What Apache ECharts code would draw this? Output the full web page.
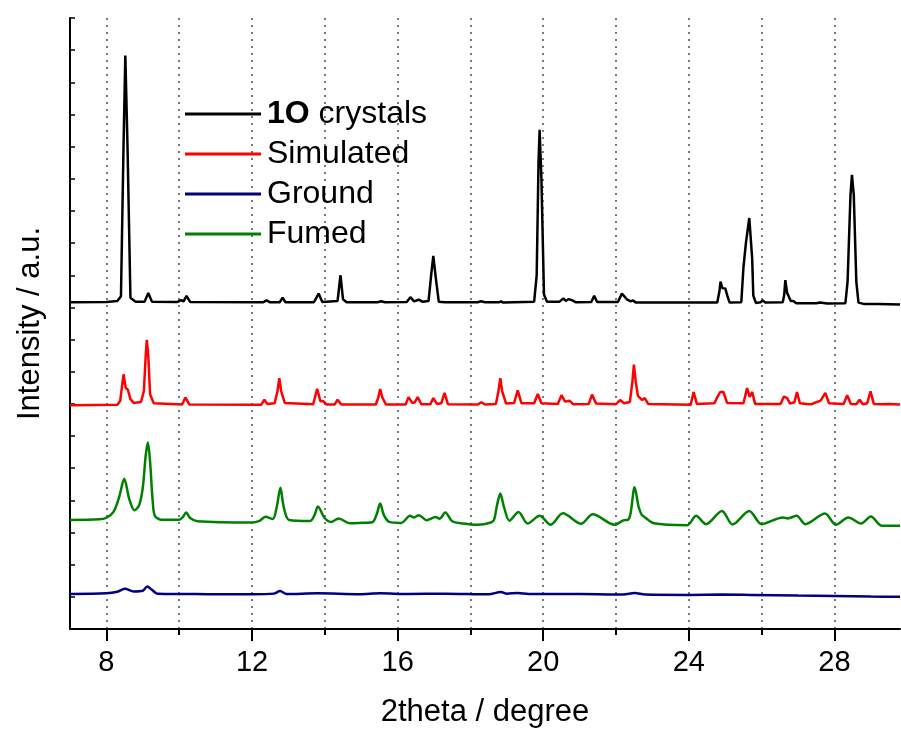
<!DOCTYPE html>
<html>
<head>
<meta charset="utf-8">
<title>XRD patterns</title>
<script src="https://cdn.jsdelivr.net/npm/echarts@6.0.0/dist/echarts.min.js"></script>
<style>
  html, body { margin: 0; padding: 0; background: #fff; }
  #chart { width: 901px; height: 733px; }
</style>
</head>
<body>
<div id="chart"></div>
<script>
// series names (legend order)
const seriesNames = ['1O crystals', 'Simulated', 'Ground', 'Fumed'];

// x tick labels and dotted grid positions (2theta, degree)
const xTickLabels = [8, 12, 16, 20, 24, 28];
const xGridTicks = [8, 10, 12, 14, 16, 18, 20, 22, 24, 26, 28];

// [2theta, intensity] pairs, offset so the patterns are stacked
const crystalsData = [
  [7.0, 101.6], [8.0, 101.7], [8.3, 102.0], [8.4, 103.5], [8.47, 150], [8.52, 178.3], [8.58, 150], [8.66, 103],
  [8.8, 101.8], [9.05, 101.8], [9.15, 104.5], [9.25, 101.8], [9.95, 101.7], [10.05, 102.3], [10.12, 101.9],
  [10.2, 103.6], [10.3, 101.7], [12.3, 101.6], [12.4, 102.2], [12.5, 101.6], [12.76, 101.6], [12.84, 103],
  [12.92, 101.6], [13.7, 101.6], [13.83, 104.3], [13.93, 101.7], [14.35, 102], [14.43, 110], [14.5, 102.5],
  [14.6, 101.6], [15.45, 101.6], [15.55, 101.9], [15.65, 101.6], [16.25, 101.7], [16.35, 103.2], [16.45, 101.9],
  [16.58, 102.4], [16.68, 101.8], [16.85, 102], [16.92, 110], [16.98, 116], [17.05, 109], [17.13, 101.8],
  [17.3, 101.6], [18.2, 101.6], [18.29, 101.9], [18.4, 101.6], [18.78, 101.6], [18.84, 101.9], [18.9, 101.5],
  [19.75, 101.8], [19.82, 110], [19.87, 145], [19.9, 155.2], [19.95, 140], [20.02, 104], [20.1, 101.8],
  [20.45, 101.8], [20.55, 102.8], [20.62, 102], [20.7, 102.6], [20.8, 102.2], [20.9, 101.6], [21.32, 101.7],
  [21.4, 103.6], [21.48, 101.7], [22.05, 101.7], [22.16, 104.3], [22.3, 102.5], [22.4, 101.9], [22.46, 102.2],
  [22.55, 101.5], [24.78, 101.5], [24.84, 105], [24.87, 108], [24.92, 106], [25.0, 105.9], [25.06, 103.5],
  [25.12, 101.5], [25.44, 101.6], [25.5, 112.5], [25.57, 120.3], [25.66, 127.8], [25.74, 115], [25.77, 103.7],
  [25.84, 101.4], [25.97, 101.6], [26.03, 102.2], [26.1, 101.5], [26.58, 101.6], [26.62, 104], [26.65, 108.5],
  [26.7, 104.5], [26.74, 104.3], [26.8, 102], [26.87, 102], [26.95, 101.3], [27.5, 101.3], [27.6, 101.5],
  [27.8, 101.2], [28.3, 101.3], [28.36, 108], [28.44, 135], [28.48, 141.2], [28.53, 135], [28.6, 108],
  [28.66, 101.5], [28.8, 101.1], [29.2, 101.1], [29.8, 100.9]
];

const simulatedData = [
  [7.0, 69.6], [8.3, 69.7], [8.38, 71], [8.47, 79.2], [8.53, 75], [8.59, 74.4], [8.66, 71.5], [8.75, 70.3],
  [8.95, 70.6], [9.03, 74], [9.08, 85], [9.11, 89.9], [9.15, 85], [9.2, 73], [9.3, 70.2], [10.08, 69.8],
  [10.17, 72], [10.28, 69.8], [12.25, 69.7], [12.34, 71.3], [12.42, 70.0], [12.62, 70.2], [12.7, 74], [12.75, 78],
  [12.8, 74], [12.9, 70.3], [13.68, 69.9], [13.79, 74.7], [13.88, 70.8], [13.95, 70.9], [14.05, 69.8],
  [14.27, 69.8], [14.35, 71.3], [14.45, 69.8], [15.4, 69.8], [15.47, 72], [15.52, 74.6], [15.58, 72],
  [15.68, 69.8], [16.22, 69.8], [16.3, 72.1], [16.4, 70.3], [16.47, 70.5], [16.55, 72.1], [16.65, 69.9],
  [16.9, 69.9], [16.98, 71.8], [17.08, 70.0], [17.2, 70.2], [17.29, 73.4], [17.38, 69.9], [18.2, 69.8],
  [18.3, 70.5], [18.4, 69.8], [18.7, 70.0], [18.77, 74], [18.82, 78], [18.87, 74], [18.98, 70.1], [19.2, 70.3],
  [19.3, 74.2], [19.4, 70.2], [19.75, 70.2], [19.85, 73.1], [19.95, 70.2], [20.4, 70.0], [20.5, 72.7],
  [20.6, 70.7], [20.72, 71.0], [20.82, 69.9], [21.25, 70], [21.34, 72.9], [21.45, 70.1], [22.0, 69.9],
  [22.11, 71.2], [22.22, 70.2], [22.38, 70.6], [22.45, 77], [22.49, 82.2], [22.54, 77], [22.6, 72.5],
  [22.65, 72.6], [22.72, 71.2], [22.79, 71.8], [22.88, 70.0], [24.05, 69.7], [24.13, 73.7], [24.22, 70.0],
  [24.7, 70.2], [24.8, 72.5], [24.86, 73.7], [24.95, 73.7], [25.05, 70.3], [25.5, 70.2], [25.6, 74.9],
  [25.67, 72.2], [25.74, 73.7], [25.82, 70.0], [26.52, 70.0], [26.61, 72.3], [26.7, 71.8], [26.78, 70.1],
  [26.9, 70.5], [26.97, 73.7], [27.05, 70.2], [27.25, 70.0], [27.3, 70.6], [27.38, 69.9], [27.45, 70.3],
  [27.52, 70.6], [27.62, 71], [27.75, 73.4], [27.85, 70.2], [28.25, 70.0], [28.35, 72.7], [28.45, 70.0],
  [28.6, 69.9], [28.69, 71.3], [28.78, 69.9], [28.9, 70.2], [28.99, 73.9], [29.08, 70.0], [29.3, 69.9],
  [29.5, 70.0], [29.8, 69.8]
];

const groundData = [
  [7.0, 10.9], [8.0, 11.1], [8.3, 11.6], [8.51, 12.5], [8.75, 11.7], [9.0, 11.9], [9.12, 13.2], [9.25, 12.2],
  [9.4, 11.0], [10.2, 10.9], [11.0, 10.8], [12.0, 10.8], [12.6, 11.0], [12.77, 11.8], [12.95, 10.9],
  [13.8, 11.1], [14.95, 10.8], [15.52, 11.1], [16.3, 10.9], [17.3, 11.0], [18.5, 10.8], [18.84, 11.5],
  [19.0, 11.0], [19.3, 11.2], [19.6, 10.9], [20.5, 10.9], [21.5, 10.8], [22.2, 10.7], [22.51, 11.2],
  [22.8, 10.7], [24.0, 10.6], [24.9, 10.7], [25.7, 10.6], [27.0, 10.4], [28.0, 10.3], [29.0, 10.1], [29.8, 10.0]
];

const fumedData = [
  [7.0, 33.9], [7.8, 34.1], [8.0, 34.6], [8.2, 36.5], [8.35, 41], [8.49, 46.7], [8.63, 40.3], [8.77, 36.9],
  [8.9, 38.5], [9.0, 44], [9.08, 54], [9.14, 58.0], [9.2, 52], [9.27, 40], [9.33, 35.2], [9.5, 34.0],
  [10.0, 34.0], [10.1, 34.8], [10.19, 36.2], [10.3, 34.5], [10.5, 33.5], [12.0, 33.1], [12.2, 33.6],
  [12.37, 34.9], [12.57, 34.2], [12.68, 38], [12.78, 43.9], [12.87, 38], [13.02, 33.9], [13.6, 33.6],
  [13.72, 35.5], [13.81, 38.1], [13.99, 34.6], [14.17, 33.3], [14.38, 34.4], [14.68, 32.9], [14.95, 33.0],
  [15.3, 33.2], [15.42, 35.5], [15.52, 39.0], [15.62, 35.5], [15.77, 33.3], [16.1, 33.0], [16.34, 35.2],
  [16.45, 34.7], [16.58, 35.4], [16.8, 33.8], [17.04, 34.8], [17.15, 34.3], [17.31, 36.2], [17.5, 33.5],
  [17.8, 32.8], [18.2, 32.4], [18.56, 33.1], [18.65, 34], [18.73, 38.5], [18.82, 42.1], [18.92, 38],
  [19.07, 33.7], [19.32, 36.4], [19.57, 32.8], [19.9, 35.2], [20.2, 32.4], [20.54, 36.0], [21.04, 32.7],
  [21.36, 35.7], [21.96, 32.4], [22.2, 33.8], [22.33, 34.0], [22.4, 36], [22.51, 44.1], [22.62, 38],
  [22.7, 35.6], [22.77, 34.9], [23.04, 32.9], [23.95, 32.3], [24.2, 35.2], [24.47, 32.6], [24.91, 36.7],
  [25.2, 32.5], [25.66, 36.7], [26.0, 32.6], [26.58, 34.7], [26.72, 34.4], [26.96, 35.2], [27.2, 32.6],
  [27.74, 35.9], [28.04, 32.4], [28.38, 34.7], [28.73, 32.8], [29.0, 35.0], [29.3, 32.1], [29.8, 32.1]
];

const seriesColors = ['#000000', '#ff0000', '#000080', '#008000'];
const seriesData = [crystalsData, simulatedData, groundData, fumedData];
// the measured (fumed, ground) patterns are broader and rounder
const seriesSmooth = [false, false, 0.3, 0.3];

const font = "'Liberation Sans', Arial, sans-serif";

var myChart = echarts.init(document.getElementById('chart'), null, {renderer: 'canvas'});

const option = {
  animation: false,
  backgroundColor: '#fff',
  grid: {
    left: 70,
    right: 1,
    top: 18,
    bottom: 100,
  },
  legend: {
    orient: 'vertical',
    left: 180,
    top: 93,
    icon: 'rect',
    itemWidth: 76,
    itemHeight: 3,
    itemGap: 8,
    data: seriesNames,
    formatter: function (name) {
      return name === '1O crystals' ? '{b|1O} crystals' : name;
    },
    textStyle: {
      fontSize: 32,
      fontFamily: font,
      color: '#000',
      padding: [0, 0, 0, 1],
      rich: {
        b: {fontSize: 32, fontFamily: font, fontWeight: 'bold', color: '#000'}
      }
    },
  },
  xAxis: [
    {
      type: 'value',
      min: 7,
      max: 29.8,
      name: '2theta / degree',
      nameLocation: 'middle',
      nameGap: 68,
      nameTextStyle: {fontSize: 31, fontFamily: font, color: '#000'},
      axisLine: {show: true, onZero: false, lineStyle: {color: '#000', width: 2}},
      axisTick: {show: true, customValues: xTickLabels, length: 12, lineStyle: {color: '#000', width: 2}},
      axisLabel: {customValues: xTickLabels, fontSize: 29, fontFamily: font, color: '#000', margin: 19},
      splitLine: {show: false},
    },
    {
      // minor ticks and dotted grid every 2 degrees
      type: 'value',
      min: 7,
      max: 29.8,
      position: 'bottom',
      axisLine: {show: false},
      axisTick: {show: true, customValues: xGridTicks, length: 6, lineStyle: {color: '#000', width: 2}},
      axisLabel: {show: false},
      splitLine: {show: true, lineStyle: {color: '#7a7a7a', width: 2, type: [2, 5]}},
    }
  ],
  yAxis: {
    type: 'value',
    min: 0,
    max: 190,
    interval: 10,
    name: 'Intensity / a.u.',
    nameLocation: 'middle',
    nameGap: 24,
    nameTextStyle: {fontSize: 31, fontFamily: font, color: '#000'},
    axisLine: {show: true, onZero: false, lineStyle: {color: '#000', width: 2}},
    axisTick: {show: true, inside: true, length: 5, lineStyle: {color: '#000', width: 1.5}},
    axisLabel: {show: false},
    splitLine: {show: false},
  },
  series: seriesNames.map(function (name, i) {
    return {
      name: name,
      type: 'line',
      xAxisIndex: 0,
      symbol: 'none',
      smooth: seriesSmooth[i],
      color: seriesColors[i],
      lineStyle: {color: seriesColors[i], width: 2.5},
      data: seriesData[i],
    };
  }),
};

myChart.setOption(option);
</script>
</body>
</html>
